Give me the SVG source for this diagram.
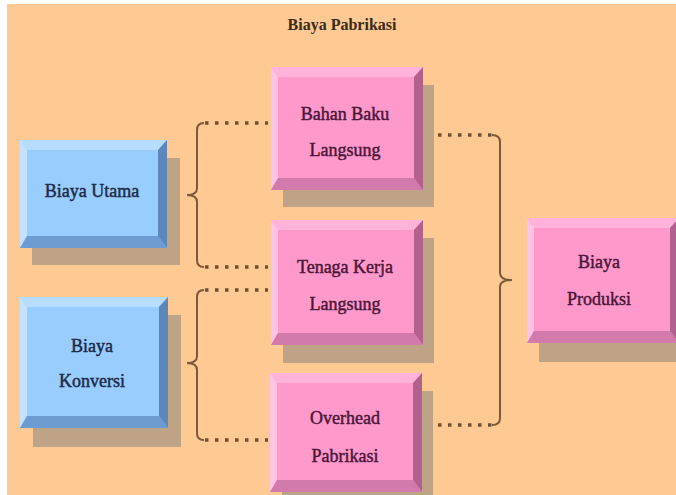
<svg xmlns="http://www.w3.org/2000/svg" width="676" height="495" viewBox="0 0 676 495">
<style>
.t{font-family:"Liberation Serif","DejaVu Serif",serif;font-size:18px;text-anchor:middle;stroke-width:0.45}
.tb{fill:#1c2a44;stroke:#1c2a44}
.tp{fill:#4a1638;stroke:#4a1638}
.sh{fill:#BFA386}
.bf{fill:#99CCFF}.bt{fill:#B6DCFF}.bl{fill:#C4E2FF}.bb{fill:#6C9CD2}.br{fill:#5B87BA}
.pf{fill:#FF99CC}.pt{fill:#FFB2DA}.pl{fill:#FFC4E3}.pb{fill:#D27AAC}.pr{fill:#B2608E}
.sol{fill:none;stroke:#7A5A3A;stroke-width:2}
.dot{fill:none;stroke:#6E5030;stroke-width:3.5;stroke-dasharray:3.5 6.5}
</style>
<rect x="0" y="0" width="676" height="495" fill="#FFFFFF"/>
<rect x="7" y="4" width="669" height="491" fill="#FEC992"/>
<text x="342" y="30" font-family="Liberation Serif, serif" font-size="16" font-weight="bold" fill="#3A2A1A" text-anchor="middle">Biaya Pabrikasi</text>

<g id="connectors">
<path class="dot" d="M205,123 H268 M205,267 H268"/>
<path class="sol" d="M204,123 Q197,123 197,130 V188 Q197,195 187,195 Q197,195 197,202 V260 Q197,267 204,267"/>
<path class="dot" d="M205,290 H268 M205,440 H268"/>
<path class="sol" d="M204,290 Q197,290 197,297 V356 Q197,363 187,363 Q197,363 197,370 V433 Q197,440 204,440"/>
<path class="dot" d="M428,135 H492 M428,425 H492"/>
<path class="sol" d="M492,135 Q500,135 500,142 V273 Q500,280 512,280 Q500,280 500,287 V418 Q500,425 492,425"/>
</g>

<g id="biaya-utama">
<rect class="sh" x="32" y="158" width="148" height="107"/>
<rect class="bf" x="20" y="140" width="147" height="108"/>
<polygon class="bt" points="20,140 167,140 158,150 27,150"/>
<polygon class="bl" points="20,140 27,150 27,236 20,248"/>
<polygon class="bb" points="20,248 27,236 158,236 167,248"/>
<polygon class="br" points="167,140 158,150 158,236 167,248"/>
<text class="t tb" x="92" y="197">Biaya Utama</text>
</g>

<g id="biaya-konversi">
<rect class="sh" x="33" y="315" width="148" height="132"/>
<rect class="bf" x="20" y="297" width="148" height="131"/>
<polygon class="bt" points="20,297 168,297 159,307 27,307"/>
<polygon class="bl" points="20,297 27,307 27,416 20,428"/>
<polygon class="bb" points="20,428 27,416 159,416 168,428"/>
<polygon class="br" points="168,297 159,307 159,416 168,428"/>
<text class="t tb" x="92" y="352">Biaya</text>
<text class="t tb" x="92" y="387">Konversi</text>
</g>

<g id="bahan-baku">
<rect class="sh" x="283" y="85" width="151" height="122"/>
<rect class="pf" x="271" y="67" width="152" height="123"/>
<polygon class="pt" points="271,67 423,67 414,77 278,77"/>
<polygon class="pl" points="271,67 278,77 278,178 271,190"/>
<polygon class="pb" points="271,190 278,178 414,178 423,190"/>
<polygon class="pr" points="423,67 414,77 414,178 423,190"/>
<text class="t tp" x="345" y="120">Bahan Baku</text>
<text class="t tp" x="345" y="156">Langsung</text>
</g>

<g id="tenaga-kerja">
<rect class="sh" x="283" y="238" width="151" height="125"/>
<rect class="pf" x="271" y="220" width="152" height="125"/>
<polygon class="pt" points="271,220 423,220 414,230 278,230"/>
<polygon class="pl" points="271,220 278,230 278,333 271,345"/>
<polygon class="pb" points="271,345 278,333 414,333 423,345"/>
<polygon class="pr" points="423,220 414,230 414,333 423,345"/>
<text class="t tp" x="345" y="273">Tenaga Kerja</text>
<text class="t tp" x="345" y="310">Langsung</text>
</g>

<g id="overhead-pabrikasi">
<rect class="sh" x="282" y="391" width="151" height="118"/>
<rect class="pf" x="270" y="373" width="152" height="119"/>
<polygon class="pt" points="270,373 422,373 413,383 277,383"/>
<polygon class="pl" points="270,373 277,383 277,480 270,492"/>
<polygon class="pb" points="270,492 277,480 413,480 422,492"/>
<polygon class="pr" points="422,373 413,383 413,480 422,492"/>
<text class="t tp" x="345" y="424">Overhead</text>
<text class="t tp" x="345" y="462">Pabrikasi</text>
</g>

<g id="biaya-produksi">
<rect class="sh" x="539" y="236" width="150" height="126"/>
<rect class="pf" x="527" y="218" width="152" height="125"/>
<polygon class="pt" points="527,218 679,218 670,228 534,228"/>
<polygon class="pl" points="527,218 534,228 534,331 527,343"/>
<polygon class="pb" points="527,343 534,331 670,331 679,343"/>
<polygon class="pr" points="679,218 670,228 670,331 679,343"/>
<text class="t tp" x="599" y="268">Biaya</text>
<text class="t tp" x="599" y="305">Produksi</text>
</g>
</svg>
